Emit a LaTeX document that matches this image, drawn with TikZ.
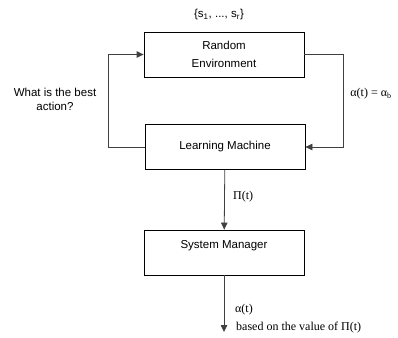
\documentclass[tikz,border=0pt]{standalone}
\usepackage{fontspec}
\setmainfont{Liberation Sans}
\newfontfamily\serifmath{Liberation Serif}
\usetikzlibrary{arrows.meta}
\tikzset{
	blok/.style={draw,line width=.8pt,minimum width=160pt,minimum height=45pt,font=\fontsize{11.5}{14}\selectfont,align=center},
	verbind/.style={line width=.8pt,draw=black!75,-{Triangle[length=7pt,width=6.5pt]}},
	tekst/.style={font=\fontsize{11.5}{14}\selectfont,align=center},
	formule/.style={font=\serifmath\fontsize{12}{16}\selectfont,inner sep=0pt}
}
\begin{document}
\begin{tikzpicture}[x=1pt,y=-1pt]
				\def\links{108}
				\def\rechts{343}
				\useasboundingbox (0,0) rectangle (398,337);
				
				\node[blok] (omgeving) at (224,54.5) {Random\\[4pt]Environment};
				\node[blok] (leerder) at (225,147) {Learning Machine};
				\node[blok,text depth=16pt] (beheerder) at (224,252.5) {System Manager};
				\coordinate (uit) at (beheerder.south |- 0,332);
				
				\node[tekst] (toestanden) at (219,15) {\{s\textsubscript{1}, ..., s\textsubscript{r}\}};
				\node[tekst] (vraag) at (55,99) {What is the best\\action?};
				\node[formule] (actie) at (371,94) {α(t) = α\textsubscript{b}};
				\node[formule,anchor=west] (kans) at (233,197) {Π(t)};
				\node[formule,anchor=west] (besluit) at (235,310) {α(t)};
				\node[formule,anchor=west] (uitleg) at (236,328) {based on the value of Π(t)};
				
				\draw[verbind] (leerder.west) -- (\links,147) |- (omgeving.west);
				\draw[verbind] (omgeving.east) -- (\rechts,54.5) |- (leerder.east);
				\draw[verbind] (leerder) -- (beheerder);
				\draw[verbind] (beheerder.south) -- (uit);
			\end{tikzpicture}
\end{document}
